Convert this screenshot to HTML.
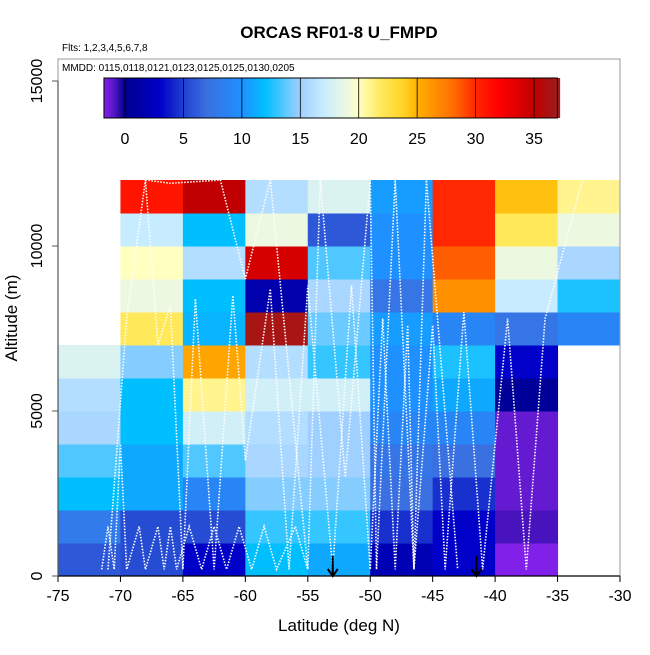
<!DOCTYPE html>
<html><head><meta charset="utf-8"><style>
body{margin:0;background:#fff;font-family:"Liberation Sans",Arial,sans-serif}
svg text{font-family:"Liberation Sans",Arial,sans-serif}
</style></head><body>
<svg id="chart" width="650" height="650" xmlns="http://www.w3.org/2000/svg">
<text x="339" y="38" text-anchor="middle" font-size="17" font-weight="bold">ORCAS RF01-8 U_FMPD</text>
<text x="62" y="51" font-size="10">Flts: 1,2,3,4,5,6,7,8</text>
<g id="cells"></g>
<g id="tracks"></g>
<g id="axes"></g>
<g id="cbar"></g>
</svg>
<script>
const lonEdges = [-75,-70,-65,-60,-55,-50,-45,-40,-35,-30];
const altEdges = [0,1000,2000,3000,4000,5000,6000,7000,8000,9000,10000,11000,12000];
// values[col][row], row 0 = 0-1000 m; null = no data
const col0 = [6,8,12,13.5,15.5,16,18,null,null,null,null,null];
const col1 = [5.5,5.5,11,11,12,12,14.5,22,19,20,17,31];
const col2 = [3,5.5,9,13.5,17.5,21,25.5,11.5,12,16,12,35];
const col3 = [12,13,14.5,15.5,16,17.5,16,36.5,1.5,34,19,16];
const col4 = [11,13,14.5,15,15,17.5,13,14,15.5,13.5,6,18];
const col5 = [2,4.5,7,7.5,9,10,10,10.5,7.5,10,10,10.5];
const col6 = [3,3,4.5,7,9,11,12.5,9,26.5,28.5,30,30];
const col7 = [-1.8,-0.8,-1.2,-1.2,-1.2,0.5,3,7.5,17,19,22,24.5];
const col8 = [null,null,null,null,null,null,null,9,12.5,15.5,19,21];
const xTicks = [-75,-70,-65,-60,-55,-50,-45,-40,-35,-30];
const yTicks = [0,5000,10000,15000];
const cbTicks = [0,5,10,15,20,25,30,35];
const arrowLats = [-53,-41.5];

const cols=[col0,col1,col2,col3,col4,col5,col6,col7,col8];
const X=v=>58+(v+75)*(562/45);
const Y=v=>576-v*(495/15000);
const stops=[[-1.8,[128,32,232]],[-1,[90,24,200]],[0,[0,0,144]],[3,[0,0,200]],[5,[32,64,208]],[7,[58,112,224]],[10,[30,144,255]],[12,[0,191,255]],[15,[160,208,255]],[17,[200,236,255]],[19,[236,248,224]],[20,[255,255,192]],[22,[255,232,90]],[24,[255,208,32]],[25,[255,176,0]],[28,[255,112,0]],[30,[255,40,0]],[32,[255,0,0]],[35,[192,0,0]],[37,[160,28,28]]];
function cmap(v){
  if(v<=stops[0][0])return `rgb(${stops[0][1]})`;
  for(let i=1;i<stops.length;i++){if(v<=stops[i][0]){const a=stops[i-1],b=stops[i];const t=(v-a[0])/(b[0]-a[0]);return 'rgb('+a[1].map((c,k)=>Math.round(c+(b[1][k]-c)*t)).join(',')+')';}}
  return `rgb(${stops[stops.length-1][1]})`;
}
const NS="http://www.w3.org/2000/svg";
function mk(tag,attrs,parent){const e=document.createElementNS(NS,tag);for(const k in attrs)e.setAttribute(k,attrs[k]);parent.appendChild(e);return e;}
const gc=document.getElementById('cells');
cols.forEach((col,ci)=>col.forEach((v,ri)=>{
  if(v===null)return;
  const x0=X(lonEdges[ci]),x1=X(lonEdges[ci+1]),y0=Y(altEdges[ri+1]),y1=Y(altEdges[ri]);
  const r=mk('rect',{x:x0,y:y0,width:x1-x0+0.5,height:y1-y0+0.5,fill:cmap(v)},gc);
  
  
}));
// decorative flight tracks (lat, alt)
const track1=[[-71.5,200],[-71,1500],[-70.5,200],[-70,4000],[-69.5,200],[-68.5,1500],[-68,200],[-67,1500],[-66.5,200],[-66,1500],[-65.5,200],[-64.5,1500],[-63.5,200],[-62.5,1500],[-61.5,200],[-60.5,1500],[-59.5,200],[-58.5,1500],[-57.5,200],[-56,1500],[-55,200]];
const track2=[[-71,200],[-69.5,7800],[-68,12000],[-67,7000],[-66,8200],[-65,200],[-64,8400],[-62.5,200],[-61,8500],[-60,3500],[-58,8700],[-56.5,200],[-55,8800],[-53,200],[-51.5,8800],[-50,200],[-49,7800],[-48,200],[-47,7600],[-46.5,200],[-45,7600],[-44,200],[-42.5,8000],[-41,200],[-39,7800],[-37.5,200],[-36,7800],[-33,12000]];
const track3=[[-68,12000],[-66,11900],[-62,12000],[-60,9000],[-58,12000],[-55,200],[-54,12000],[-52,3000],[-50,12000],[-49.5,200],[-48,12000],[-46.5,200],[-45.5,12000],[-43,200]];
const gt=document.getElementById('tracks');
[track1,track2,track3].forEach(t=>{
  const p=mk('polyline',{points:t.map(q=>X(q[0])+','+Y(q[1])).join(' '),fill:'none',stroke:'#fff','stroke-width':1.6,'stroke-dasharray':'1.5,1.5'},gt);
  
  
});
arrowLats.forEach(l=>{
  const a=mk('path',{d:`M${X(l)},556 L${X(l)},576 M${X(l)-5},569 L${X(l)},576 L${X(l)+5},569`,stroke:'#000','stroke-width':2,fill:'none'},gt);
  
  
});
const ga=document.getElementById('axes');
const fr=mk('rect',{x:58,y:59,width:562,height:517,fill:'none',stroke:'#999','stroke-width':1},ga);


mk('line',{x1:58,y1:576,x2:620,y2:576,stroke:'#000','stroke-width':1.2},ga);
mk('line',{x1:58,y1:Y(0),x2:58,y2:Y(15000),stroke:'#555','stroke-width':1.2},ga);
xTicks.forEach(v=>{
  mk('line',{x1:X(v),y1:576,x2:X(v),y2:582,stroke:'#000'},ga);
  const t=mk('text',{x:X(v),y:601,'text-anchor':'middle','font-size':16},ga);t.textContent=v;
  
  
});
yTicks.forEach(v=>{
  mk('line',{x1:52,y1:Y(v),x2:58,y2:Y(v),stroke:'#555'},ga);
  const t=mk('text',{x:42,y:Y(v),'text-anchor':'middle','font-size':16,transform:`rotate(-90 42 ${Y(v)})`},ga);t.textContent=v;
  
  
});
const xt=mk('text',{x:339,y:631,'text-anchor':'middle','font-size':17},ga);xt.textContent='Latitude (deg N)';


const yt=mk('text',{x:17,y:318,'text-anchor':'middle','font-size':17,transform:'rotate(-90 17 318)'},ga);yt.textContent='Altitude (m)';


// colorbar legend
const gb=document.getElementById('cbar');
const mt=mk('text',{x:62,y:71,'font-size':10},gb);mt.textContent='MMDD: 0115,0118,0121,0123,0125,0125,0130,0205';


const CB=v=>125+v*(409/35);
for(let v=-1.8;v<37;v+=0.2){mk('rect',{x:CB(v),y:78,width:CB(v+0.2)-CB(v)+0.4,height:40,fill:cmap(v+0.1)},gb);}
mk('rect',{x:CB(-1.8),y:78,width:CB(37)-CB(-1.8),height:40,fill:'none',stroke:'#000'},gb);
cbTicks.forEach(v=>{
  mk('line',{x1:CB(v),y1:78,x2:CB(v),y2:118,stroke:'#000','stroke-width':0.8},gb);
  const t=mk('text',{x:CB(v),y:144,'text-anchor':'middle','font-size':16},gb);t.textContent=v;
  
  
});
</script>
</body></html>
